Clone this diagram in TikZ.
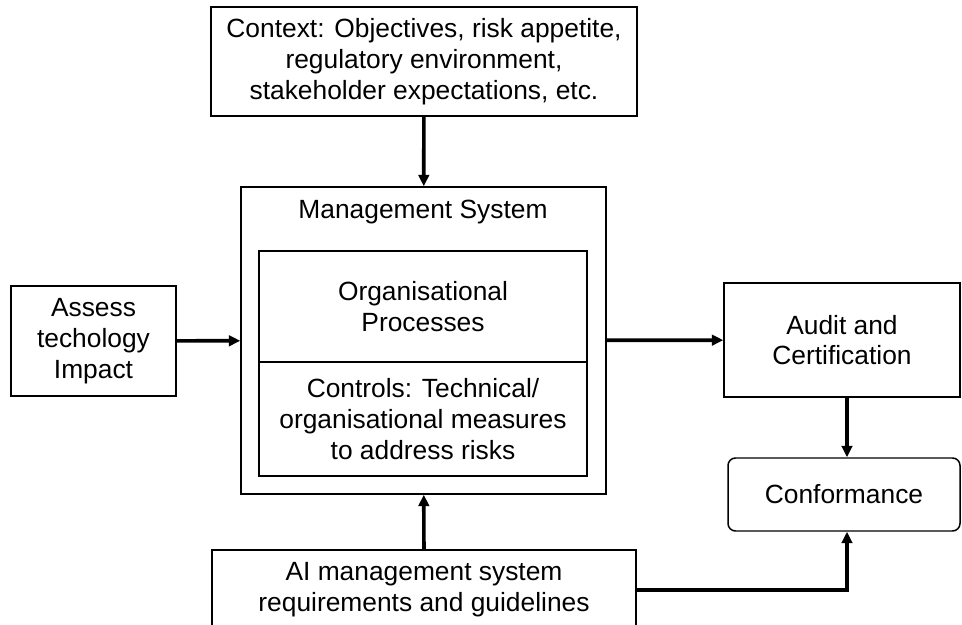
\documentclass[tikz,border=0pt]{standalone}
\usepackage{fontspec}
\setmainfont{Liberation Sans}
\usetikzlibrary{arrows.meta,positioning,calc}

\begin{document}
\begin{tikzpicture}[every node/.style={font=\fontsize{15}{17.5}\selectfont},
  box/.style={rectangle, draw, line width=0.85pt, align=center, inner sep=0pt},
  flow/.style={-{Triangle[length=6.5pt,width=6pt]}, line width=2.1pt}]
\useasboundingbox (0,0) rectangle (19.24,-12.5);
\node[box, minimum width=8.52cm, minimum height=2.18cm] (ctx) at (8.48,-1.23) {Context: Objectives, risk appetite,\\regulatory environment,\\stakeholder expectations, etc.};
\node[box, minimum width=7.30cm, minimum height=6.14cm] (ms) at (8.47,-6.81) {};
\node (msname) at (8.46,-4.24) {Management System};
\node[box, minimum width=6.56cm, minimum height=2.22cm] (orgp) at (8.46,-6.13) {Organisational\\Processes};
\node[box, minimum width=6.56cm, minimum height=2.28cm] (ctrl) at (8.46,-8.38) {Controls: Technical/\\organisational measures\\to address risks};
\node[box, minimum width=3.30cm, minimum height=2.20cm] (assess) at (1.87,-6.82) {Assess\\techology\\Impact};
\node[box, minimum width=4.72cm, minimum height=2.28cm] (audit) at (16.84,-6.80) {Audit and\\Certification};
\node[box, rounded corners=0.15cm, minimum width=4.64cm, minimum height=1.46cm] (conf) at (16.88,-9.89) {Conformance};
\node[box, minimum width=8.48cm, minimum height=1.6cm] (ai) at (8.48,-11.8) {AI management system\\requirements and guidelines};
% connectors
\coordinate (auditout) at ($(audit.south)+(0.1,0)$);
\coordinate (confin) at ($(conf.south)+(0.06,0)$);
\draw[flow] (ctx) -- (ms);
\draw[flow] (assess) -- (ms);
\draw[flow] (ms) -- (audit);
\draw[flow] (auditout) -- (auditout |- conf.north);
\draw[flow] (ai) -- (ms);
\draw[flow] (ai.east) -| (confin);
\end{tikzpicture}
\end{document}
